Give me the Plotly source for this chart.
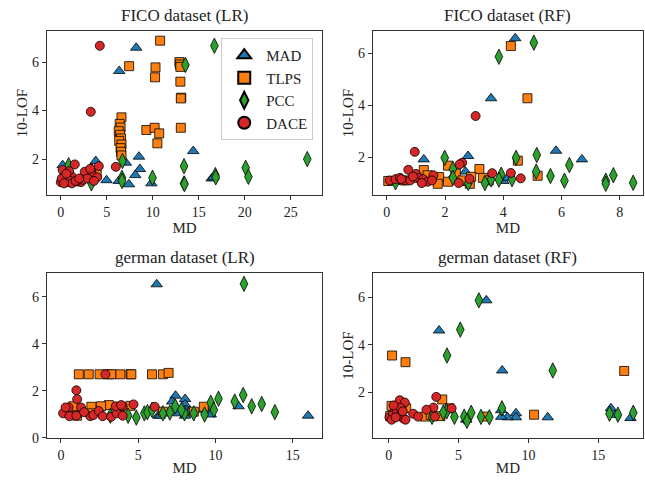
import plotly.graph_objects as go

# ---------------- data ----------------
methods = ["MAD", "TLPS", "PCC", "DACE"]
panel_titles = ["FICO dataset (LR)", "FICO dataset (RF)", "german dataset (LR)", "german dataset (RF)"]

# FICO (LR)
fico_lr_mad_x = [8.2, 6.35, 14.4, 8.5, 8.6, 7.07, 8.1, 4.97, 7.4, 9.85, 16.4, 3.8, 0.2, 1.34, 6.3, 0.5, 0.9, 3.3, 16.6]
fico_lr_mad_y = [6.59, 5.63, 2.33, 2.1, 1.59, 1.85, 1.34, 1.13, 0.96, 1.0, 1.2, 1.92, 1.75, 1.0, 1.1, 1.0, 1.05, 1.6, 1.25]
fico_lr_tlps_x = [10.8, 7.43, 10.3, 10.25, 12.9, 12.95, 13.0, 13.0, 13.1, 13.05, 13.05, 9.3, 10.2, 10.7, 10.5,
                  6.6, 6.4, 6.5, 6.3, 6.45, 6.55, 6.35, 6.6, 6.5, 6.55, 6.6, 3.9]
fico_lr_tlps_y = [6.88, 5.83, 5.78, 5.37, 6.0, 5.9, 5.8, 5.19, 4.53, 4.5, 3.29, 3.2, 3.29, 3.06, 2.65,
                  3.72, 3.45, 3.3, 3.15, 3.0, 2.85, 2.75, 2.6, 2.45, 2.3, 2.15, 1.45]
fico_lr_pcc_x = [16.7, 13.55, 26.8, 13.4, 20.1, 20.4, 16.8, 16.85, 13.4, 13.45, 9.97, 6.7, 6.65, 6.65, 3.33, 0.85, 3.4, 0.3]
fico_lr_pcc_y = [6.67, 5.88, 2.0, 1.71, 1.64, 1.27, 1.34, 1.25, 1.0, 0.97, 1.23, 1.92, 1.23, 1.1, 1.0, 1.75, 1.5, 1.3]
fico_lr_dace_x = [4.24, 3.26, 5.98, 1.52, 4.13, 0.2, 2.6, 3.4, 3.95, 1.15, 0.4, 0.9, 2.2, 0.0, 0.3, 0.7, 0.5, 0.8,
                  1.0, 1.8, 2.4, 2.9, 3.6, 0.1, 0.6, 1.2, 1.6, 2.0, 3.2, 0.35]
fico_lr_dace_y = [6.67, 3.95, 1.68, 1.78, 1.71, 1.55, 1.48, 1.35, 1.25, 1.3, 1.2, 1.5, 1.05, 1.05, 1.05, 1.05, 1.25, 1.15,
                  1.1, 1.1, 1.15, 1.2, 1.1, 1.2, 1.4, 1.0, 1.1, 1.2, 1.6, 1.0]

# FICO (RF)
fico_rf_mad_x = [4.41, 3.58, 2.79, 1.27, 5.81, 6.7, 2.7, 4.0, 4.15, 2.67, 0.3, 2.3]
fico_rf_mad_y = [6.57, 4.26, 2.04, 1.91, 2.24, 1.91, 1.44, 1.08, 1.2, 1.0, 1.05, 1.3]
fico_rf_tlps_x = [4.26, 4.83, 4.5, 5.18, 1.27, 2.1, 3.18, 2.37, 1.8, 1.75, 2.1, 2.85, 3.3, 2.9, 0.05, 0.6, 1.0, 1.4, 2.6, 3.5]
fico_rf_tlps_y = [6.27, 4.26, 1.86, 1.28, 1.5, 1.67, 1.54, 1.37, 1.23, 0.97, 1.05, 0.97, 1.2, 1.24, 1.08, 1.1, 1.2, 1.3, 1.1, 1.1]
fico_rf_pcc_x = [5.05, 3.85, 4.44, 5.15, 6.27, 5.13, 5.62, 6.1, 7.52, 7.52, 7.78, 8.46, 1.99, 2.27, 2.27, 3.93, 3.85, 4.3,
                 3.58, 3.37, 2.8, 0.3]
fico_rf_pcc_y = [6.4, 5.86, 1.97, 2.08, 1.69, 1.44, 1.27, 1.09, 1.09, 0.97, 1.3, 1.01, 1.97, 1.54, 1.2, 1.32, 1.13, 1.15,
                 1.14, 1.0, 1.0, 1.03]
fico_rf_dace_x = [3.05, 0.96, 2.59, 2.5, 0.74, 3.62, 4.26, 4.6, 2.47, 2.84, 1.6, 0.1, 0.3, 0.45, 0.6, 0.8, 1.0, 1.1,
                  1.25, 1.4, 1.55, 0.9, 1.2, 0.5]
fico_rf_dace_y = [3.58, 2.2, 1.78, 1.72, 1.51, 1.38, 1.39, 1.18, 1.0, 1.16, 1.3, 1.1, 1.15, 1.2, 1.1, 1.1, 1.35, 1.2,
                  1.15, 1.05, 1.1, 1.25, 1.0, 1.15]

# german (LR)
german_lr_mad_x = [6.2, 16.0, 7.42, 8.04, 8.04, 8.1, 8.04, 7.2, 11.5, 9.3, 9.55, 6.3, 6.4, 7.6, 8.3, 9.7]
german_lr_mad_y = [6.54, 0.95, 1.8, 1.66, 1.43, 1.2, 0.95, 1.55, 1.35, 1.2, 1.05, 0.95, 0.95, 1.05, 1.1, 1.0]
german_lr_tlps_x = [1.16, 1.8, 2.5, 3.1, 3.27, 3.85, 4.5, 4.56, 5.9, 6.6, 6.97, 1.97, 3.1, 4.5, 6.6, 8.6, 9.25,
                    1.0, 1.05, 2.6, 3.85, 0.8, 2.0]
german_lr_tlps_y = [2.71, 2.71, 2.71, 2.71, 2.71, 2.71, 2.71, 2.71, 2.71, 2.71, 2.77, 1.33, 1.4, 1.37, 1.12, 1.12, 1.33,
                    1.2, 0.95, 1.35, 1.3, 1.35, 1.05]
german_lr_pcc_x = [11.85, 11.8, 11.25, 10.2, 13.0, 12.35, 13.85, 9.7, 9.9, 7.4, 7.05, 8.0, 8.6, 4.88, 4.35, 5.4, 5.6,
                   5.9, 6.6, 9.3, 7.8, 3.2]
german_lr_pcc_y = [6.56, 1.83, 1.55, 1.67, 1.45, 1.35, 1.1, 1.5, 1.2, 1.35, 1.08, 1.05, 1.05, 0.87, 0.95, 1.05, 1.1,
                   1.2, 1.05, 1.0, 1.2, 0.95]
german_lr_dace_x = [2.88, 1.0, 1.05, 6.07, 4.7, 4.0, 0.14, 0.5, 0.55, 1.0, 1.3, 1.9, 2.1, 2.45, 2.7, 3.25, 3.6, 4.0,
                    3.55, 0.3, 3.9, 1.5]
german_lr_dace_y = [2.71, 2.03, 1.65, 1.33, 1.43, 1.35, 1.05, 1.3, 0.93, 0.95, 1.3, 0.93, 0.98, 1.15, 0.93, 0.9, 1.05,
                    0.95, 1.35, 1.3, 1.4, 1.1]

# german (RF)
german_rf_mad_x = [6.98, 3.6, 8.12, 11.38, 9.1, 9.1, 8.5, 8.05, 8.05, 15.9, 16.2, 17.3, 5.55, 4.3]
german_rf_mad_y = [5.87, 4.6, 2.92, 0.95, 1.12, 0.95, 0.95, 0.97, 1.25, 1.33, 1.05, 0.92, 0.85, 1.3]
german_rf_tlps_x = [0.24, 1.2, 16.85, 3.83, 10.4, 6.98, 0.2, 1.25, 2.6, 3.7, 4.35, 0.1, 0.5, 0.9, 3.0]
german_rf_tlps_y = [3.55, 3.27, 2.9, 1.7, 1.06, 0.98, 1.43, 1.33, 0.98, 1.0, 1.33, 1.0, 1.2, 1.3, 1.05]
german_rf_pcc_x = [6.45, 5.12, 4.17, 11.74, 8.1, 15.8, 16.4, 17.5, 5.4, 5.6, 5.9, 6.6, 7.2, 4.15, 4.7, 3.1, 3.9]
german_rf_pcc_y = [5.87, 4.64, 3.55, 2.92, 1.33, 1.1, 1.06, 1.14, 0.98, 0.8, 1.14, 0.97, 0.95, 1.2, 0.97, 0.97, 1.15]
german_rf_dace_x = [3.4, 0.79, 1.15, 3.2, 4.5, 3.3, 2.7, 1.75, 2.1, 0.05, 0.3, 0.45, 0.6, 0.75, 0.9, 1.05, 1.2, 0.2,
                    0.5, 0.85, 1.0, 0.35]
german_rf_dace_y = [1.81, 1.67, 1.57, 1.36, 1.33, 0.98, 1.27, 1.1, 0.98, 0.95, 1.1, 1.3, 1.2, 1.0, 1.1, 0.9, 0.85, 0.85,
                    0.95, 1.35, 1.2, 1.45]

x_ticks = [[0, 5, 10, 15, 20, 25], [0, 2, 4, 6, 8], [0, 5, 10, 15], [0, 5, 10, 15]]
y_ticks = [[2, 4, 6], [2, 4, 6], [0, 2, 4, 6], [2, 4, 6]]

# ---------------- styling ----------------
colors = {"MAD": "#1f77b4", "TLPS": "#ff7f0e", "PCC": "#2ca02c", "DACE": "#d62728"}
symbols = {"MAD": "triangle-up", "TLPS": "square", "PCC": "diamond-tall", "DACE": "circle"}
sizes = {"MAD": 10, "TLPS": 9, "PCC": 11, "DACE": 9}
FONT = "Liberation Serif"

panels = [
    [(fico_lr_mad_x, fico_lr_mad_y), (fico_lr_tlps_x, fico_lr_tlps_y), (fico_lr_pcc_x, fico_lr_pcc_y), (fico_lr_dace_x, fico_lr_dace_y)],
    [(fico_rf_mad_x, fico_rf_mad_y), (fico_rf_tlps_x, fico_rf_tlps_y), (fico_rf_pcc_x, fico_rf_pcc_y), (fico_rf_dace_x, fico_rf_dace_y)],
    [(german_lr_mad_x, german_lr_mad_y), (german_lr_tlps_x, german_lr_tlps_y), (german_lr_pcc_x, german_lr_pcc_y), (german_lr_dace_x, german_lr_dace_y)],
    [(german_rf_mad_x, german_rf_mad_y), (german_rf_tlps_x, german_rf_tlps_y), (german_rf_pcc_x, german_rf_pcc_y), (german_rf_dace_x, german_rf_dace_y)],
]

x_ranges = [[-1.5, 28.4], [-0.48, 8.8], [-0.9, 16.9], [-1.14, 18.2]]
y_ranges = [[0.52, 7.28], [0.54, 6.85], [0.0, 7.02], [0.08, 7.02]]
x_domains = [[0.0729, 0.4992], [0.578, 0.997], [0.0729, 0.4992], [0.578, 0.997]]
y_domains = [[0.5946, 0.9356], [0.5946, 0.9356], [0.0894, 0.4324], [0.0894, 0.4324]]
show_ytitle = [True, True, False, True]

fig = go.Figure()
for p in range(4):
    xa = "x" if p == 0 else f"x{p+1}"
    ya = "y" if p == 0 else f"y{p+1}"
    for m, (xs, ys) in zip(methods, panels[p]):
        fig.add_trace(go.Scatter(
            x=xs, y=ys, mode="markers", name=m, xaxis=xa, yaxis=ya,
            showlegend=(p == 0),
            marker=dict(color=colors[m], symbol=symbols[m], size=sizes[m],
                        line=dict(color="black", width=0.8)),
        ))

layout = dict(
    width=645, height=481,
    margin=dict(l=0, r=0, t=0, b=0, autoexpand=False),
    paper_bgcolor="white", plot_bgcolor="white",
    font=dict(family=FONT, size=13, color="#222"),
    legend=dict(x=0.343, y=0.921, xanchor="left", yanchor="top",
                bgcolor="rgba(255,255,255,0.8)", bordercolor="#cccccc", borderwidth=1,
                font=dict(family=FONT, size=15, color="#222"), tracegroupgap=2,
                itemsizing="constant", itemwidth=34),
    annotations=[],
)
for p in range(4):
    xk = "xaxis" if p == 0 else f"xaxis{p+1}"
    yk = "yaxis" if p == 0 else f"yaxis{p+1}"
    ya = "y" if p == 0 else f"y{p+1}"
    xa = "x" if p == 0 else f"x{p+1}"
    axis_common = dict(showline=True, mirror=True, linecolor="#333", linewidth=1.2,
                       ticks="outside", ticklen=4, tickwidth=1, tickcolor="#333",
                       showgrid=False, zeroline=False, automargin=False,
                       tickfont=dict(family=FONT, size=14, color="#222"))
    layout[xk] = dict(domain=x_domains[p], range=x_ranges[p], anchor=ya,
                      tickvals=x_ticks[p], title=dict(text="MD", standoff=0,
                      font=dict(family=FONT, size=15)), **axis_common)
    layout[yk] = dict(domain=y_domains[p], range=y_ranges[p], anchor=xa,
                      tickvals=y_ticks[p],
                      title=dict(text="10-LOF" if show_ytitle[p] else "", standoff=0,
                                 font=dict(family=FONT, size=15)), **axis_common)
    layout["annotations"].append(dict(
        text=panel_titles[p], xref="paper", yref="paper",
        x=(x_domains[p][0] + x_domains[p][1]) / 2, y=y_domains[p][1] + 0.008,
        xanchor="center", yanchor="bottom", showarrow=False,
        font=dict(family=FONT, size=17, color="#222")))

fig.update_layout(**layout)
fig.write_html("out.html", config={"displayModeBar": False},
               post_script="document.body.style.margin='0';document.body.style.overflow='hidden';")
